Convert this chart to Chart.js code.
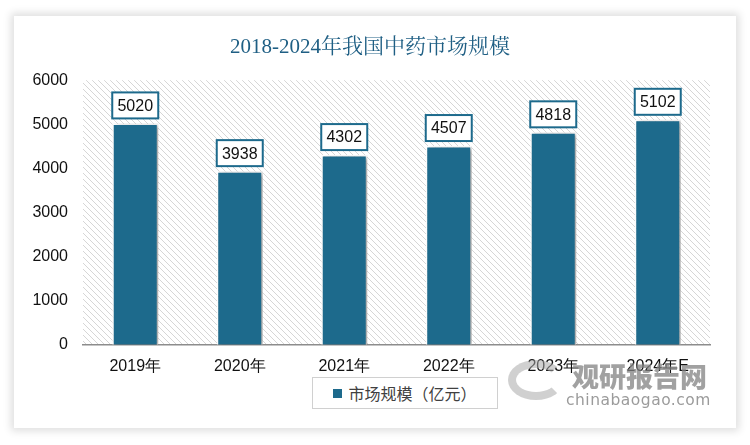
<!DOCTYPE html>
<html>
<head>
<meta charset="utf-8">
<script src="https://cdn.jsdelivr.net/npm/chart.js@4.4.0/dist/chart.umd.min.js"></script>
<style>
  body { margin: 0; background: #fff; }
  #wrap { position: relative; width: 750px; height: 445px; overflow: hidden; }
  #card { position: absolute; left: 14px; top: 16px; width: 722px; height: 412px; background: #fff;
          box-shadow: 0 0 8px 3px rgba(0,0,0,0.13); }
  canvas { position: absolute; left: 0; top: 0; }
  #legend { position: absolute; left: 312px; top: 377px; width: 186px; height: 32px; box-sizing: border-box;
            border: 1px solid #d0d0d0; font-family: "Noto Sans CJK SC", sans-serif; font-size: 16px; color: #404040;
            display: flex; align-items: center; justify-content: center; background: #fff; }
  #legend i { display: inline-block; width: 9px; height: 9px; background: #1d6a8c; margin-right: 6px; }
  #wm1 { position: absolute; left: 572px; top: 356px; font-family: "Noto Sans CJK SC", sans-serif; font-weight: 900;
         font-size: 27px; color: rgba(130,130,130,0.75); }
  #wm2 { position: absolute; left: 566px; top: 391px; font-family: "DejaVu Sans", sans-serif; font-size: 15.5px;
         color: rgba(130,130,130,0.8); letter-spacing: 0.5px; }
  #wmlogo { position: absolute; left: 508px; top: 360px; width: 56px; height: 40px; border-radius: 50%;
            border: 8px solid rgba(170,170,170,0.55); border-right-color: transparent; box-sizing: border-box; }
</style>
</head>
<body>
<div id="wrap">
  <div id="card"></div>
  <canvas id="myChart" width="750" height="445"></canvas>
  <div id="legend"><i></i>市场规模（亿元）</div>
  <div id="wmlogo"></div>
  <div id="wm1">观研报告网</div>
  <div id="wm2">chinabaogao.com</div>
</div>
<script>
var years = ['2019年', '2020年', '2021年', '2022年', '2023年', '2024年E'];
var marketSize = [5020, 3938, 4302, 4507, 4818, 5102];
var yTicks = [0, 1000, 2000, 3000, 4000, 5000, 6000];

var barColor = '#1d6a8c';

// diagonal hatch for the plot area
function makeHatch(ctx) {
    var c = document.createElement('canvas');
    c.width = 6; c.height = 6;
    var p = c.getContext('2d');
    p.fillStyle = '#ffffff';
    p.fillRect(0, 0, 6, 6);
    p.strokeStyle = '#d6d6d6';
    p.lineWidth = 1;
    p.beginPath();
    p.moveTo(0, 0); p.lineTo(6, 6);
    p.moveTo(-3, 3); p.lineTo(3, 9);
    p.moveTo(3, -3); p.lineTo(9, 3);
    p.stroke();
    return ctx.createPattern(c, 'repeat');
}

var hatchPlugin = {
    id: 'hatch',
    beforeDraw: function (chart) {
        var a = chart.chartArea, ctx = chart.ctx;
        ctx.save();
        ctx.fillStyle = makeHatch(ctx);
        ctx.fillRect(a.left, a.top, a.right - a.left, a.bottom - a.top);
        ctx.restore();
    }
};

var shadowPlugin = {
    id: 'barShadow',
    beforeDatasetDraw: function (chart) {
        var ctx = chart.ctx;
        ctx.save();
        ctx.shadowColor = 'rgba(0,0,0,0.35)';
        ctx.shadowBlur = 4;
        ctx.shadowOffsetX = 3;
        ctx.shadowOffsetY = 1;
    },
    afterDatasetDraw: function (chart) {
        chart.ctx.restore();
    }
};

var labelPlugin = {
    id: 'boxLabels',
    afterDatasetsDraw: function (chart) {
        var ctx = chart.ctx;
        var meta = chart.getDatasetMeta(0);
        ctx.save();
        ctx.font = '16px "Liberation Sans", sans-serif';
        ctx.textAlign = 'center';
        ctx.textBaseline = 'middle';
        meta.data.forEach(function (bar, i) {
            var w = 46, h = 26;
            var x = bar.x - w / 2, y = bar.y - 5 - h;
            ctx.fillStyle = '#fff';
            ctx.fillRect(x, y, w, h);
            ctx.strokeStyle = barColor;
            ctx.lineWidth = 2;
            ctx.strokeRect(x, y, w, h);
            ctx.fillStyle = '#111';
            ctx.fillText(String(marketSize[i]), bar.x, y + h / 2 + 1);
        });
        ctx.restore();
    }
};

var ctx = document.getElementById('myChart').getContext('2d');
var myChart = new Chart(ctx, {
    type: 'bar',
    data: {
        labels: years,
        datasets: [{
            label: '市场规模（亿元）',
            data: marketSize,
            backgroundColor: barColor,
            borderColor: '#ffffff',
            borderWidth: 1.5,
            barPercentage: 0.44,
            categoryPercentage: 1
        }]
    },
    options: {
        responsive: false,
        animation: false,
        layout: { padding: { left: 30, right: 40, top: 0, bottom: 57 } },
        plugins: {
            legend: { display: false },
            tooltip: { enabled: false },
            title: {
                display: true,
                text: '2018-2024年我国中药市场规模',
                color: '#1f5f84',
                font: { family: '"Liberation Serif", "Noto Serif CJK SC", serif', size: 21, weight: 'normal' },
                padding: { top: 35, bottom: 20 }
            }
        },
        scales: {
            x: {
                grid: { display: false, drawTicks: false },
                border: { display: true, color: '#8c8c8c', width: 1.5 },
                ticks: { color: '#111', padding: 12, font: { family: '"Liberation Sans", sans-serif', size: 16 } }
            },
            y: {
                min: 0,
                max: 6000,
                afterBuildTicks: function (axis) {
                    axis.ticks = yTicks.map(function (v) { return { value: v }; });
                },
                afterFit: function (axis) { axis.width = 53; },
                grid: { display: false, drawTicks: false },
                border: { display: false },
                ticks: {
                    color: '#111', padding: 15,
                    font: { family: '"Liberation Sans", sans-serif', size: 16 },
                    callback: function (v) { return String(v); }
                }
            }
        }
    },
    plugins: [hatchPlugin, shadowPlugin, labelPlugin]
});
</script>
</body>
</html>
